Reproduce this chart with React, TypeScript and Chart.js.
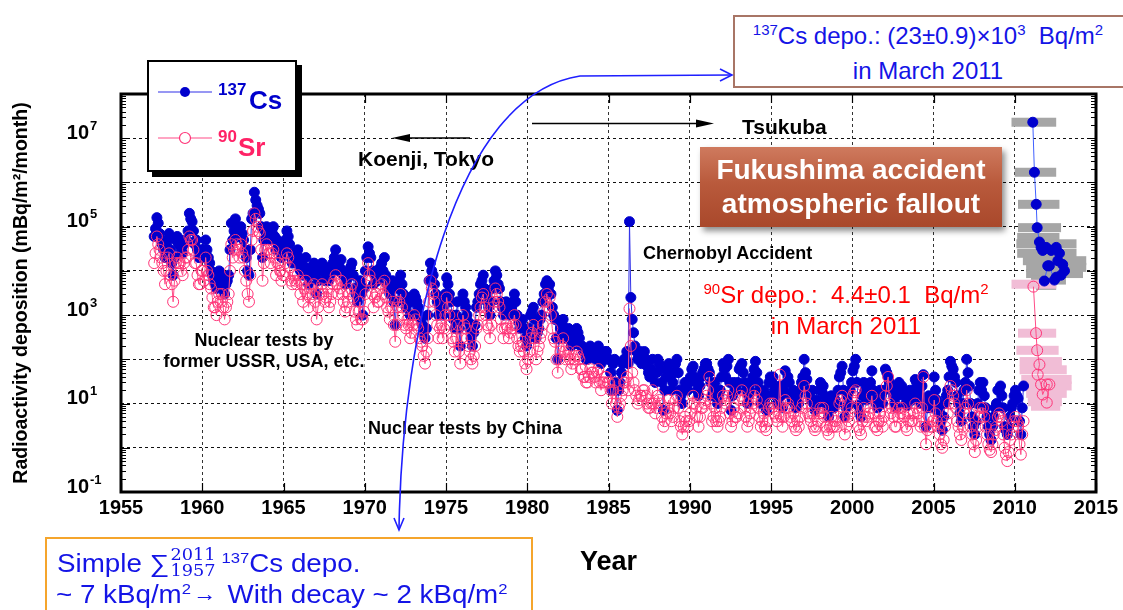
import React, { useEffect, useRef } from 'react';
import { Chart, registerables } from 'chart.js';

Chart.register(...registerables);

const FONT = '"Liberation Sans", Arial, Helvetica, sans-serif';

// ---- axes ----
const xMin = 1955;
const xMax = 2015;
const xStep = 5;
const yMin = 0.1;
const yMax = 1e8;
const yLabelExponents = [-1, 1, 3, 5, 7];

// ---- long-term monthly record (Koenji / Tsukuba), from January 1957 ----
const firstYear = 1957;
const samplesPerYear = 12;

// 137Cs, mBq/m2/month
const cs137 = [
  6e4, 9e4, 1.6e5, 1.2e5, 7e4, 5e4, 4e4, 3e4, 2e4, 4e4, 5e4, 7e4, // 1957
  3e4, 1.5e4, 8e3, 2e4, 5e4, 6e4, 4e4, 5e4, 3e4, 2.5e4, 4e4, 5e4, // 1958
  5e4, 8e4, 2e5, 1.5e5, 1.3e5, 8e4, 4e4, 5e4, 3e4, 2e4, 2e4, 3e4, // 1959
  3e4, 2e4, 5e4, 3e4, 2e4, 1.5e4, 1e4, 8e3, 6e3, 5e3, 4e3, 6e3, // 1960
  1e4, 6e3, 8e3, 4e3, 3e3, 5e3, 6e3, 8e3, 3e4, 1.2e5, 5e4, 8e4, // 1961
  1.5e5, 1e5, 8e4, 6e4, 1e5, 7e4, 5e4, 3e4, 2e4, 1e4, 8e3, 3e4, // 1962
  1.5e5, 2e5, 6e5, 4e5, 3e5, 2.5e5, 2e5, 1e5, 2e4, 5e4, 8e4, 1e5, // 1963
  9e4, 7e4, 5e4, 8e4, 1e5, 6e4, 3e4, 5e4, 4e4, 3e4, 2e4, 3e4, // 1964
  3e4, 5e4, 8e4, 6e4, 4e4, 2e4, 1.5e4, 2.5e4, 2e4, 1.5e4, 3e4, 2e4, // 1965
  1e4, 1.5e4, 8e3, 1.2e4, 2e4, 1e4, 5e3, 8e3, 1.2e4, 1e4, 1.5e4, 8e3, // 1966
  3e3, 6e3, 1e4, 1.2e4, 1.5e4, 1e4, 6e3, 8e3, 1.2e4, 6e3, 8e3, 1e4, // 1967
  1.5e4, 2e4, 3e4, 1.5e4, 1e4, 1.2e4, 1.8e4, 1e4, 8e3, 5e3, 6e3, 8e3, // 1968
  1e4, 1.2e4, 1.5e4, 8e3, 4e3, 3e3, 2e3, 4e3, 6e3, 3e3, 1e3, 4e3, // 1969
  1e4, 2e4, 3.5e4, 2.5e4, 2e4, 1e4, 5e3, 8e3, 1e4, 6e3, 8e3, 1.2e4, // 1970
  1.5e4, 1e4, 2e4, 8e3, 5e3, 4e3, 3e3, 5e3, 6e3, 2e3, 6e2, 2e3, // 1971
  4e3, 6e3, 8e3, 5e3, 3e3, 2e3, 1.5e3, 2.5e3, 2e3, 1e3, 1e3, 2e3, // 1972
  3e3, 2.5e3, 2e3, 1.5e3, 1e3, 8e2, 6e2, 4e2, 3e2, 5e2, 1e3, 6e3, // 1973
  1.5e4, 1e4, 8e3, 5e3, 3e3, 2e3, 1e3, 1.5e3, 2e3, 1e3, 1.5e3, 3e3, // 1974
  7e3, 5e3, 3e3, 2e3, 1e3, 8e2, 5e2, 1e3, 2e3, 5e2, 2e2, 8e2, // 1975
  3e3, 2e3, 1.5e3, 1e3, 7e2, 5e2, 3e2, 2e2, 4e2, 6e2, 1.5e3, 2e3, // 1976
  3e3, 5e3, 6e3, 8e3, 4e3, 3e3, 2e3, 1.5e3, 1e3, 2e3, 4e3, 6e3, // 1977
  1e4, 8e3, 5e3, 4e3, 2e3, 1.5e3, 1e3, 1.5e3, 2e3, 1.5e3, 1e3, 1.2e3, // 1978
  1.5e3, 2e3, 3e3, 2e3, 1e3, 7e2, 5e2, 6e2, 8e2, 5e2, 3e2, 2e2, // 1979
  3e2, 5e2, 1e3, 1.2e3, 1.5e3, 8e2, 3e2, 4e2, 5e2, 8e2, 1e3, 2e3, // 1980
  3e3, 5e3, 6e3, 4e3, 5e3, 3e3, 1.5e3, 1e3, 8e2, 3e2, 1e2, 3e2, // 1981
  5e2, 6e2, 8e2, 5e2, 3e2, 4e2, 5e2, 3e2, 2e2, 2.5e2, 3e2, 4e2, // 1982
  5e2, 4e2, 3e2, 2e2, 2e2, 1.5e2, 1.5e2, 1e2, 1e2, 1.5e2, 2e2, 1.5e2, // 1983
  1.5e2, 1.2e2, 1e2, 1.5e2, 2e2, 1e2, 8e1, 1.2e2, 1e2, 1.5e2, 1.5e2, 1e2, // 1984
  1e2, 5e1, 2e1, 8e1, 1e2, 3e1, 7, 2e1, 3e1, 5e1, 8e1, 1e2, // 1985
  1e2, 1.5e2, 8e1, 1.3e5, 2.5e3, 8e2, 4e2, 2e2, 1.5e2, 1e2, 1e2, 1.5e2, // 1986
  8e1, 1.2e2, 1.5e2, 1e2, 7e1, 5e1, 4e1, 6e1, 1e2, 5e1, 3e1, 5e1, // 1987
  1e2, 8e1, 6e1, 3e1, 7, 2e1, 4e1, 6e1, 8e1, 4e1, 2e1, 3e1, // 1988
  5e1, 8e1, 1e2, 5e1, 2e1, 1.5e1, 1e1, 2e1, 3e1, 2.5e1, 2e1, 3e1, // 1989
  4e1, 6e1, 7e1, 4e1, 3e1, 2e1, 1.5e1, 2.5e1, 4e1, 5e1, 6e1, 8e1, // 1990
  8e1, 6e1, 5e1, 3e1, 1.5e1, 2e1, 3e1, 1.5e1, 1e1, 1.5e1, 2e1, 4e1, // 1991
  8e1, 6e1, 4e1, 7e1, 1e2, 3e1, 7, 1.5e1, 3e1, 2e1, 2e1, 3e1, // 1992
  6e1, 7e1, 8e1, 5e1, 3e1, 2e1, 1e1, 1.5e1, 2e1, 3e1, 4e1, 6e1, // 1993
  9e1, 5e1, 3e1, 2e1, 1e1, 1.5e1, 2e1, 1e1, 7, 1.5e1, 3e1, 4e1, // 1994
  3e1, 4e1, 2e1, 1.5e1, 1e1, 2e1, 2.5e1, 1.5e1, 8, 2e1, 5.5e1, 3e1, // 1995
  4e1, 3e1, 1.5e1, 1.2e1, 2e1, 1e1, 8, 1.5e1, 1e1, 2e1, 3e1, 4e1, // 1996
  1e2, 5e1, 3.5e1, 2e1, 1.5e1, 1.2e1, 2e1, 1e1, 7, 1.2e1, 1e1, 2e1, // 1997
  3e1, 2e1, 2.5e1, 1.5e1, 1e1, 7, 5, 1e1, 1.5e1, 1e1, 8, 1.2e1, // 1998
  1e1, 2e1, 4e1, 5e1, 7e1, 2e1, 5, 8, 1.5e1, 1e1, 2e1, 3e1, // 1999
  5.5e1, 7e1, 1e2, 3e1, 9, 6, 5, 1.5e1, 3e1, 2e1, 1.2e1, 1.5e1, // 2000
  2e1, 3e1, 5.5e1, 2e1, 1.2e1, 1e1, 8, 1.2e1, 2e1, 1.5e1, 1e1, 2e1, // 2001
  6e1, 5e1, 4e1, 3e1, 2e1, 2.5e1, 1.5e1, 1e1, 8, 1.5e1, 3e1, 2e1, // 2002
  2.5e1, 2e1, 1.5e1, 1e1, 9, 1.5e1, 2e1, 1.5e1, 1.2e1, 2e1, 3.5e1, 3e1, // 2003
  2e1, 1.5e1, 1e1, 2.5e1, 4.5e1, 1e1, 3, 8, 1.5e1, 1e1, 8, 1.5e1, // 2004
  4e1, 2e1, 1.2e1, 8, 6, 4, 2.5, 5, 1e1, 1.5e1, 2e1, 4e1, // 2005
  9e1, 7e1, 6e1, 4e1, 3e1, 1.5e1, 1e1, 6, 4, 1e1, 2e1, 3e1, // 2006
  1e2, 5e1, 2.5e1, 1e1, 5, 3, 2, 4, 1e1, 2e1, 3e1, 2e1, // 2007
  3e1, 1.5e1, 8, 5, 3, 2, 1.5, 3, 5, 8, 1e1, 2e1, // 2008
  2e1, 2.5e1, 1.5e1, 8, 3, 2.5, 2, 3, 5, 8, 1e1, 1.5e1, // 2009
  2e1, 1.5e1, 1.3e1, 4, 2, 8, 2.5e1, // 2010
];

// 90Sr, mBq/m2/month
const sr90 = [
  1.5e4, 2.5e4, 6e4, 4e4, 3e4, 2e4, 1.5e4, 1e4, 5e3, 1e4, 2e4, 2.5e4, // 1957
  8e3, 5e3, 2e3, 6e3, 1.5e4, 2e4, 1.5e4, 1.5e4, 1e4, 8e3, 1.5e4, 2e4, // 1958
  2e4, 3e4, 6e4, 5e4, 5e4, 3e4, 1.5e4, 1.5e4, 8e3, 5e3, 5e3, 1e4, // 1959
  1e4, 6e3, 2e4, 1e4, 8e3, 5e3, 4e3, 2.5e3, 1.5e3, 1.5e3, 1e3, 2e3, // 1960
  3e3, 2e3, 3e3, 1.5e3, 8e2, 1.5e3, 2e3, 3e3, 1e4, 4e4, 2e4, 3e4, // 1961
  5e4, 4e4, 3e4, 2e4, 4e4, 2.5e4, 2e4, 1e4, 6e3, 3e3, 2e3, 8e3, // 1962
  5e4, 8e4, 2e5, 1.5e5, 1e5, 8e4, 7e4, 3e4, 6e3, 1.5e4, 3e4, 4e4, // 1963
  3e4, 2.5e4, 1.5e4, 2.5e4, 3e4, 2e4, 8e3, 1.5e4, 1.5e4, 1e4, 6e3, 8e3, // 1964
  8e3, 1.5e4, 2.5e4, 2e4, 1.2e4, 6e3, 5e3, 8e3, 6e3, 5e3, 8e3, 6e3, // 1965
  3e3, 5e3, 2e3, 4e3, 6e3, 3e3, 1.5e3, 2.5e3, 4e3, 3e3, 5e3, 2e3, // 1966
  8e2, 1.5e3, 3e3, 4e3, 5e3, 3e3, 2e3, 2.5e3, 4e3, 1.5e3, 2e3, 3e3, // 1967
  5e3, 6e3, 8e3, 5e3, 3e3, 4e3, 6e3, 3e3, 2e3, 1.2e3, 1.5e3, 2e3, // 1968
  3e3, 4e3, 5e3, 2.5e3, 1.2e3, 8e2, 6e2, 1.2e3, 2e3, 8e2, 8e2, 1.2e3, // 1969
  3e3, 6e3, 1.5e4, 8e3, 6e3, 3e3, 1.5e3, 2.5e3, 3e3, 2e3, 2e3, 4e3, // 1970
  5e3, 3e3, 6e3, 2.5e3, 1.5e3, 1.2e3, 8e2, 1.5e3, 2e3, 6e2, 2.5e2, 6e2, // 1971
  1.5e3, 2e3, 3e3, 1.5e3, 1e3, 6e2, 5e2, 8e2, 6e2, 3e2, 4e2, 6e2, // 1972
  1e3, 8e2, 6e2, 5e2, 3e2, 2.5e2, 2e2, 1.2e2, 8e1, 1.5e2, 3e2, 2e3, // 1973
  6e3, 4e3, 3e3, 2e3, 1e3, 6e2, 3e2, 5e2, 6e2, 3e2, 5e2, 1e3, // 1974
  2.5e3, 1.5e3, 1e3, 6e2, 3e2, 2.5e2, 1.5e2, 3e2, 6e2, 1.5e2, 8e1, 3e2, // 1975
  1e3, 6e2, 5e2, 3e2, 2e2, 1.5e2, 1e2, 8e1, 1.2e2, 2e2, 5e2, 6e2, // 1976
  1e3, 1.5e3, 2.5e3, 3e3, 1.5e3, 1e3, 6e2, 5e2, 3e2, 6e2, 1.5e3, 2e3, // 1977
  4e3, 3e3, 2e3, 1.5e3, 8e2, 5e2, 3e2, 5e2, 6e2, 5e2, 3e2, 4e2, // 1978
  5e2, 6e2, 1e3, 6e2, 3e2, 2e2, 1.5e2, 2e2, 2.5e2, 1.5e2, 8e1, 6e1, // 1979
  1e2, 1.5e2, 3e2, 4e2, 6e2, 3e2, 1e2, 1.5e2, 2e2, 3e2, 4e2, 6e2, // 1980
  1.2e3, 2e3, 3e3, 1.5e3, 2.5e3, 1e3, 5e2, 3e2, 2.5e2, 1e2, 5e1, 1e2, // 1981
  1.5e2, 2e2, 3e2, 1.5e2, 1e2, 1.2e2, 1.5e2, 1e2, 6e1, 8e1, 1e2, 1.2e2, // 1982
  1.5e2, 1.2e2, 1e2, 6e1, 6e1, 4e1, 4e1, 3e1, 3e1, 4e1, 6e1, 5e1, // 1983
  5e1, 4e1, 3e1, 5e1, 6e1, 3e1, 2e1, 3e1, 3e1, 4e1, 4e1, 3e1, // 1984
  3e1, 2e1, 1e1, 2e1, 3e1, 1e1, 5, 8, 1e1, 1.5e1, 2e1, 3e1, // 1985
  3e1, 4e1, 2e1, 1.4e3, 2e2, 5e1, 3e1, 2e1, 1.5e1, 1e1, 1.2e1, 1.5e1, // 1986
  1.5e1, 2e1, 2e1, 1.5e1, 1e1, 8, 8, 1e1, 2e1, 1e1, 6, 8, // 1987
  1.5e1, 1.2e1, 1e1, 5, 3, 4, 6, 8, 1.2e1, 6, 4, 5, // 1988
  8, 1.2e1, 1.5e1, 8, 4, 3, 2, 3, 5, 4, 3, 4, // 1989
  6, 1e1, 1.5e1, 1e1, 8, 5, 3, 5, 8, 8, 1e1, 1.2e1, // 1990
  1.5e1, 2e1, 4e1, 1e1, 4, 5, 8, 4, 3, 4, 5, 8, // 1991
  1.5e1, 1.2e1, 1e1, 1.5e1, 2e1, 6, 3, 4, 8, 5, 5, 6, // 1992
  1.2e1, 1.5e1, 2e1, 1.2e1, 8, 5, 3, 4, 6, 8, 1e1, 1.5e1, // 1993
  2e1, 1.2e1, 8, 5, 3, 4, 6, 3, 2.5, 4, 8, 1e1, // 1994
  8, 1e1, 6, 5, 4, 6, 4.5e1, 5, 3, 5, 1.2e1, 8, // 1995
  1e1, 8, 5, 4, 6, 3, 2.5, 4, 3, 5, 8, 1e1, // 1996
  2.5e1, 1.5e1, 1e1, 6, 5, 4, 6, 3, 2.5, 3, 4, 6, // 1997
  8, 6, 8, 5, 3, 2.5, 2, 3, 5, 3, 3, 4, // 1998
  3, 5, 1e1, 1.2e1, 1.5e1, 5, 2, 3, 5, 4, 6, 8, // 1999
  1.5e1, 1.8e1, 2e1, 8, 3, 2.5, 2, 4, 8, 5, 4, 5, // 2000
  6, 8, 1.5e1, 6, 3, 3, 2.5, 4, 6, 4, 3, 5, // 2001
  1.5e1, 2.5e1, 4e1, 1e1, 6, 8, 5, 3, 3, 5, 8, 6, // 2002
  8, 6, 5, 3, 2.5, 4, 6, 4, 4, 6, 1e1, 8, // 2003
  6, 4, 3, 8, 4e1, 3, 1.2, 2.5, 5, 3, 3, 4, // 2004
  1.2e1, 6, 4, 3, 2, 1.2, 1, 1.5, 3, 4, 6, 1e1, // 2005
  2.5e1, 2e1, 1.5e1, 1e1, 8, 4, 3, 2, 1.5, 3, 6, 8, // 2006
  2e1, 1e1, 6, 3, 2, 1.2, 0.8, 1.5, 3, 5, 8, 6, // 2007
  8, 5, 3, 2, 1.2, 0.9, 0.8, 1.2, 2, 2.5, 3, 5, // 2008
  6, 5, 4, 2, 1, 0.7, 0.5, 0.8, 1.5, 2, 3, 4, // 2009
  5, 4, 3, 1.2, 0.7, 2, 4, // 2010
];

// ---- Fukushima fallout at Tsukuba (from March 2011) ----
const fukCsYear = [2011.11, 2011.21, 2011.32, 2011.38, 2011.52, 2011.62, 2011.72, 2011.93, 2012.24, 2012.55, 2012.75, 2012.65, 2012.95, 2013.06, 2012.85, 2012.55, 2012.44, 2012.13, 2012.03, 2011.82];
const fukCs = [2.3e7, 1.7e6, 3.2e5, 9.5e4, 4.5e4, 3.4e4, 2.9e4, 3.4e4, 2.9e4, 3.4e4, 2.5e4, 1.7e4, 1.4e4, 1e4, 8e3, 7.2e3, 6.2e3, 1.3e4, 1.3e4, 5.9e3];
const fukSrYear = [2011.15, 2011.31, 2011.38, 2011.52, 2011.41, 2011.62, 2011.72, 2011.97, 2012.13, 2011.97];
const fukSr = [4.4e3, 3.9e2, 1.6e2, 76, 45, 27, 16, 27, 27, 10.5];

// horizontal range bars behind the Fukushima points
const csBarValue = [2.3e7, 1.7e6, 3.2e5, 9.5e4, 5.7e4, 4.1e4, 2.5e4, 1.7e4, 1.2e4, 8.7e3, 6.2e3, 4.7e3];
const csBarFrom = [2009.8, 2010.0, 2010.2, 2010.2, 2010.15, 2010.1, 2010.15, 2010.5, 2010.7, 2010.7, 2011.0, 2011.3];
const csBarTo = [2012.55, 2012.55, 2012.75, 2012.85, 2012.75, 2013.8, 2013.8, 2014.4, 2014.4, 2014.2, 2013.15, 2012.55];
const srBarValue = [5e3, 3.9e2, 1.6e2, 89, 58, 35, 25, 17, 11, 8.7];
const srBarFrom = [2009.8, 2010.2, 2010.1, 2010.3, 2010.3, 2010.4, 2010.6, 2010.7, 2010.8, 2011.0];
const srBarTo = [2012.55, 2012.55, 2012.7, 2012.9, 2013.2, 2013.5, 2013.5, 2013.2, 2012.9, 2012.8];

const CS_COLOR = '#0000cd';
const SR_COLOR = '#ff3377';

const decorPlugin = {
  id: 'decor',
  beforeDatasetsDraw(chart: any) {
    const { ctx, scales } = chart;
    const x = scales.x;
    const y = scales.y;
    ctx.save();
    ctx.fillStyle = '#a6a6a6';
    csBarValue.forEach((v, i) => {
      const py = y.getPixelForValue(v);
      const x1 = x.getPixelForValue(csBarFrom[i]);
      const x2 = x.getPixelForValue(csBarTo[i]);
      ctx.fillRect(x1, py - 4.5, x2 - x1, 9);
    });
    ctx.fillStyle = '#f1bdd6';
    srBarValue.forEach((v, i) => {
      const py = y.getPixelForValue(v);
      const x1 = x.getPixelForValue(srBarFrom[i]);
      const x2 = x.getPixelForValue(srBarTo[i]);
      ctx.fillRect(x1, py - 4.5, x2 - x1, 9);
    });
    ctx.restore();
  },
  afterDraw(chart: any) {
    const { ctx, chartArea: a, scales } = chart;
    const x = scales.x;
    const y = scales.y;
    ctx.save();
    ctx.strokeStyle = '#000';
    ctx.lineWidth = 1.2;
    ctx.beginPath();
    for (let e = Math.round(Math.log10(yMin)); e < Math.round(Math.log10(yMax)); e++) {
      for (let m = 1; m < 10; m++) {
        const py = Math.round(y.getPixelForValue(m * Math.pow(10, e))) + 0.5;
        const len = m === 1 ? 9 : 5;
        ctx.moveTo(a.left, py);
        ctx.lineTo(a.left + len, py);
        ctx.moveTo(a.right - len, py);
        ctx.lineTo(a.right, py);
      }
    }
    for (let yr = xMin; yr <= xMax; yr += xStep) {
      const px = Math.round(x.getPixelForValue(yr)) + 0.5;
      ctx.moveTo(px, a.bottom);
      ctx.lineTo(px, a.bottom - 9);
      ctx.moveTo(px, a.top);
      ctx.lineTo(px, a.top + 9);
    }
    ctx.stroke();
    ctx.lineWidth = 3;
    ctx.strokeRect(a.left, a.top, a.right - a.left, a.bottom - a.top);

    // y labels: 10^n
    ctx.fillStyle = '#000';
    ctx.textBaseline = 'alphabetic';
    yLabelExponents.forEach((e) => {
      const py = y.getPixelForValue(Math.pow(10, e));
      ctx.font = `bold 20px ${FONT}`;
      ctx.textAlign = 'right';
      ctx.fillText('10', 89, py + 0.5);
      ctx.font = `bold 13px ${FONT}`;
      ctx.textAlign = 'left';
      ctx.fillText(e < 0 ? '-' + Math.abs(e) : String(e), 90, py - 8.5);
    });
    ctx.restore();
  },
};

const abs = (l: number, t: number, extra: any = {}) => ({
  position: 'absolute' as const,
  left: l,
  top: t,
  lineHeight: 1,
  whiteSpace: 'nowrap' as const,
  ...extra,
});

const sup = (size: number, raise: number) => ({
  fontSize: size,
  position: 'relative' as const,
  top: -raise,
});

export default function App() {
  const ref = useRef<HTMLCanvasElement | null>(null);

  useEffect(() => {
    if (!ref.current) return;
    Chart.defaults.font.family = FONT;
    const toPts = (vals: number[]) =>
      vals.map((v, i) => ({ x: firstYear + (i + 0.5) / samplesPerYear, y: v }));
    const chart = new Chart(ref.current, {
      type: 'line',
      data: {
        datasets: [
          {
            label: '137Cs',
            data: toPts(cs137),
            borderColor: '#3030e8',
            borderWidth: 1,
            pointRadius: 5,
            pointBackgroundColor: CS_COLOR,
            pointBorderColor: CS_COLOR,
            pointBorderWidth: 1,
            order: 4,
          },
          {
            label: '90Sr',
            data: toPts(sr90),
            borderColor: '#ff4d88',
            borderWidth: 1,
            pointRadius: 5.5,
            pointBackgroundColor: 'rgba(255,255,255,0)',
            pointBorderColor: SR_COLOR,
            pointBorderWidth: 1,
            order: 3,
          },
          {
            label: '137Cs Fukushima',
            data: fukCs.map((v, i) => ({ x: fukCsYear[i], y: v })),
            borderColor: '#4060ff',
            borderWidth: 1,
            pointRadius: 5,
            pointBackgroundColor: CS_COLOR,
            pointBorderColor: CS_COLOR,
            order: 2,
          },
          {
            label: '90Sr Fukushima',
            data: fukSr.map((v, i) => ({ x: fukSrYear[i], y: v })),
            borderColor: '#ff4d88',
            borderWidth: 1,
            pointRadius: 5.5,
            pointBackgroundColor: 'rgba(255,255,255,0)',
            pointBorderColor: SR_COLOR,
            order: 1,
          },
        ],
      },
      options: {
        animation: false,
        responsive: false,
        devicePixelRatio: 1,
        events: [],
        layout: { padding: { left: 0, top: 94, right: 27, bottom: 0 } },
        elements: { line: { tension: 0, fill: false } },
        plugins: { legend: { display: false }, tooltip: { enabled: false } },
        scales: {
          x: {
            type: 'linear',
            min: xMin,
            max: xMax,
            afterFit: (s: any) => {
              s.height = 118;
            },
            ticks: {
              stepSize: xStep,
              autoSkip: false,
              maxRotation: 0,
              padding: 4,
              color: '#000',
              font: { size: 20, weight: 'bold', family: FONT },
              callback: (v: any) => String(v),
            },
            grid: { color: '#333', lineWidth: 1, drawTicks: false },
            border: { display: false, dash: [3, 3] },
            title: {
              display: true,
              text: 'Year',
              color: '#000',
              font: { size: 27, weight: 'bold', family: FONT },
              padding: { top: 0, bottom: 31 },
            },
          },
          y: {
            type: 'logarithmic',
            min: yMin,
            max: yMax,
            afterBuildTicks: (s: any) => {
              const t: any[] = [];
              for (let e = Math.round(Math.log10(yMin)); e <= Math.round(Math.log10(yMax)); e++) {
                t.push({ value: Math.pow(10, e), major: true });
              }
              s.ticks = t;
            },
            afterFit: (s: any) => {
              s.width = 121;
            },
            ticks: { display: false },
            grid: { color: '#111', lineWidth: 1, drawTicks: false },
            border: { display: false, dash: [3, 3] },
            title: {
              display: true,
              text: 'Radioactivity deposition (mBq/m²/month)',
              color: '#000',
              font: { size: 19.5, weight: 'bold', family: FONT },
              padding: { top: 10, bottom: 0 },
            },
          },
        },
      },
      plugins: [decorPlugin],
    } as any);
    return () => chart.destroy();
  }, []);

  return (
    <div
      style={{
        position: 'absolute',
        left: 0,
        top: 0,
        width: 1123,
        height: 610,
        overflow: 'hidden',
        background: '#fff',
        fontFamily: FONT,
      }}
    >
      <canvas ref={ref} width={1123} height={610} style={{ position: 'absolute', left: 0, top: 0, width: 1123, height: 610 }} />

      {/* legend */}
      <div
        style={{
          position: 'absolute',
          left: 147,
          top: 60,
          width: 150,
          height: 112,
          boxSizing: 'border-box',
          border: '2px solid #000',
          background: '#fff',
          boxShadow: '5px 5px 0 #000',
        }}
      />
      <svg width={1123} height={610} style={{ position: 'absolute', left: 0, top: 0 }}>
        <line x1={158} y1={92} x2={212} y2={92} stroke="#3030e8" strokeWidth={1.2} />
        <circle cx={185} cy={92} r={5} fill={CS_COLOR} />
        <line x1={158} y1={138} x2={212} y2={138} stroke="#ff4d88" strokeWidth={1.2} />
        <circle cx={185} cy={138} r={5.5} fill="#fff" stroke={SR_COLOR} strokeWidth={1.2} />
      </svg>
      <div style={abs(218, 81, { fontSize: 17, fontWeight: 700, color: '#0000cc' })}>137</div>
      <div style={abs(249, 87, { fontSize: 26, fontWeight: 700, color: '#0000cc' })}>Cs</div>
      <div style={abs(218, 128, { fontSize: 17, fontWeight: 700, color: '#ff2266' })}>90</div>
      <div style={abs(238, 134, { fontSize: 26, fontWeight: 700, color: '#ff2266' })}>Sr</div>

      {/* in-plot labels */}
      <div style={abs(358, 147.5, { fontSize: 21, fontWeight: 700, color: '#000' })}>Koenji, Tokyo</div>
      <div style={abs(742, 115.5, { fontSize: 21, fontWeight: 700, color: '#000' })}>Tsukuba</div>
      <div style={abs(643, 244, { fontSize: 18, fontWeight: 700, color: '#000' })}>Chernobyl Accident</div>
      <div
        style={abs(264, 330, {
          fontSize: 18,
          fontWeight: 700,
          color: '#000',
          lineHeight: '21px',
          textAlign: 'center',
          transform: 'translateX(-50%)',
        })}
      >
        <span style={{ background: '#fff' }}>Nuclear tests by</span>
        <br />
        <span style={{ background: '#fff' }}>former USSR, USA, etc.</span>
      </div>
      <div style={abs(368, 419, { fontSize: 18, fontWeight: 700, color: '#000' })}>Nuclear tests by China</div>

      <div
        style={abs(846, 281, {
          fontSize: 24,
          color: '#ff0000',
          lineHeight: '28px',
          textAlign: 'center',
          transform: 'translateX(-50%)',
        })}
      >
        <span style={sup(15, 9)}>90</span>Sr depo.:&nbsp; 4.4±0.1&nbsp; Bq/m<span style={sup(15, 9)}>2</span>
        <br />
        in March 2011
      </div>

      {/* Fukushima label */}
      <div
        style={{
          position: 'absolute',
          left: 700,
          top: 147,
          width: 302,
          height: 80,
          background: 'linear-gradient(180deg, #cf7a5e 0%, #b95a3c 45%, #a9482b 100%)',
          boxShadow: '3px 4px 6px rgba(0,0,0,0.45)',
          color: '#fff',
          fontWeight: 700,
          fontSize: 28,
          lineHeight: '34px',
          textAlign: 'center',
          boxSizing: 'border-box',
          paddingTop: 6,
          whiteSpace: 'nowrap',
        }}
      >
        Fukushima accident
        <br />
        atmospheric fallout
      </div>

      {/* Cs deposition box */}
      <div
        style={{
          position: 'absolute',
          left: 733,
          top: 15,
          width: 394,
          height: 73,
          boxSizing: 'border-box',
          border: '2px solid #a87566',
          background: '#fff',
          color: '#1414e6',
          fontSize: 24,
          lineHeight: '32px',
          textAlign: 'center',
          paddingTop: 3,
          paddingRight: 4,
          whiteSpace: 'nowrap',
        }}
      >
        <span style={sup(15, 9)}>137</span>Cs depo.: (23±0.9)×10<span style={sup(15, 9)}>3</span>&nbsp; Bq/m
        <span style={sup(15, 9)}>2</span>
        <br />
        in March 2011
      </div>

      {/* sum box */}
      <div
        style={{
          position: 'absolute',
          left: 45,
          top: 537,
          width: 488,
          height: 90,
          boxSizing: 'border-box',
          border: '2.5px solid #f5a52c',
          background: '#fff',
        }}
      />
      <div
        style={abs(57, 546.5, {
          fontSize: 25,
          color: '#1414e6',
          transform: 'scaleX(1.11)',
          transformOrigin: 'left top',
        })}
      >
        Simple <span style={{ fontSize: 25 }}>∑</span>
        <span style={{ position: 'relative', display: 'inline-block', width: 41, height: 25, marginRight: 6 }}>
          <span style={{ position: 'absolute', left: 1, top: 0, fontSize: 16, fontFamily: '"DejaVu Serif", serif' }}>2011</span>
          <span style={{ position: 'absolute', left: 1, top: 16, fontSize: 16, fontFamily: '"DejaVu Serif", serif' }}>1957</span>
        </span>
        <span style={sup(15, 9)}>137</span>Cs depo.
      </div>
      <div
        style={abs(56, 581.5, {
          fontSize: 25,
          color: '#1414e6',
          transform: 'scaleX(1.11)',
          transformOrigin: 'left top',
        })}
      >
        ~ 7 kBq/m<span style={sup(15, 9)}>2</span>
        <span style={{ fontSize: 21, position: 'relative', top: -2, margin: '0 3px 0 2px' }}>→</span> With decay ~ 2 kBq/m
        <span style={sup(15, 9)}>2</span>
      </div>

      {/* arrows */}
      <svg width={1123} height={610} style={{ position: 'absolute', left: 0, top: 0 }}>
        <line x1={470} y1={138} x2={408} y2={138} stroke="#000" strokeWidth={1.3} />
        <polygon points="392,138 410,134 410,142" fill="#000" />
        <line x1={532} y1={123.5} x2={698} y2={123.5} stroke="#000" strokeWidth={1.3} />
        <polygon points="714,123.5 696,119.5 696,127.5" fill="#000" />
        <path d="M399,529 C402,330 455,95 580,76 L731,75" fill="none" stroke="#1f1fff" strokeWidth={1.6} />
        <polyline points="394,518 399,530 404,518" fill="none" stroke="#1f1fff" strokeWidth={1.6} />
        <polyline points="720,69 732,75 720,81" fill="none" stroke="#1f1fff" strokeWidth={1.6} />
      </svg>
    </div>
  );
}
